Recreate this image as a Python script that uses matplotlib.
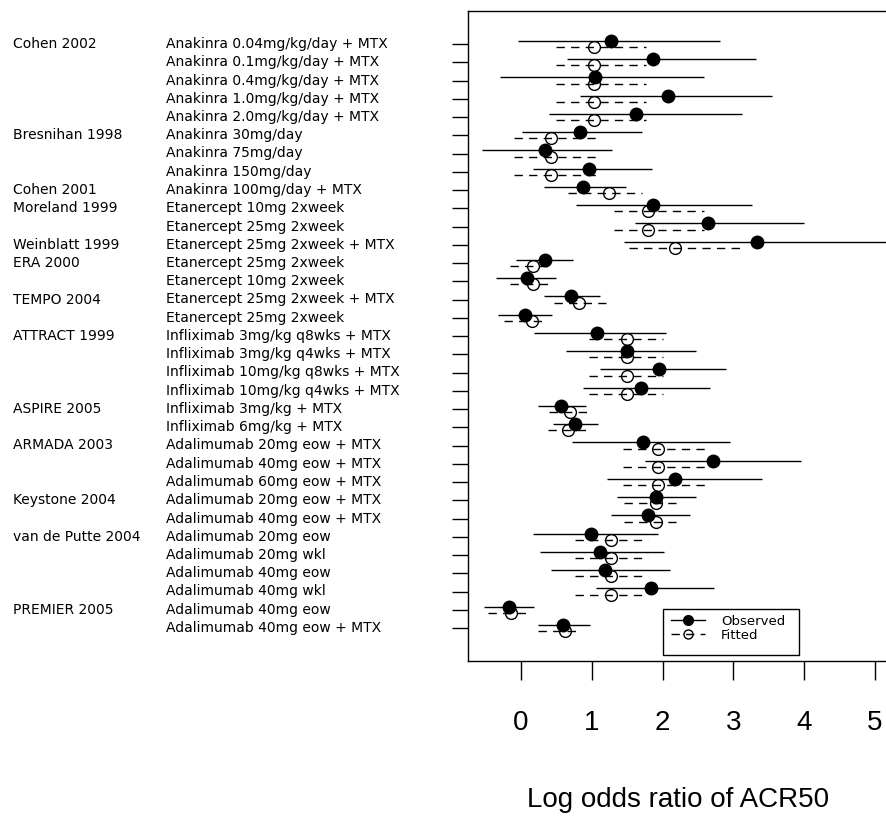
import matplotlib
matplotlib.use('Agg')
import matplotlib.pyplot as plt
from matplotlib.lines import Line2D
from matplotlib.patches import Rectangle
import numpy as np

studies = ['Cohen 2002', '', '', '', '',
           'Bresnihan 1998', '', '',
           'Cohen 2001',
           'Moreland 1999', '',
           'Weinblatt 1999',
           'ERA 2000', '',
           'TEMPO 2004', '',
           'ATTRACT 1999', '', '', '',
           'ASPIRE 2005', '',
           'ARMADA 2003', '', '',
           'Keystone 2004', '',
           'van de Putte 2004', '', '', '',
           'PREMIER 2005', '']
treatments = ['Anakinra 0.04mg/kg/day + MTX', 'Anakinra 0.1mg/kg/day + MTX',
              'Anakinra 0.4mg/kg/day + MTX', 'Anakinra 1.0mg/kg/day + MTX',
              'Anakinra 2.0mg/kg/day + MTX',
              'Anakinra 30mg/day', 'Anakinra 75mg/day', 'Anakinra 150mg/day',
              'Anakinra 100mg/day + MTX',
              'Etanercept 10mg 2xweek', 'Etanercept 25mg 2xweek',
              'Etanercept 25mg 2xweek + MTX',
              'Etanercept 25mg 2xweek', 'Etanercept 10mg 2xweek',
              'Etanercept 25mg 2xweek + MTX', 'Etanercept 25mg 2xweek',
              'Infliximab 3mg/kg q8wks + MTX', 'Infliximab 3mg/kg q4wks + MTX',
              'Infliximab 10mg/kg q8wks + MTX', 'Infliximab 10mg/kg q4wks + MTX',
              'Infliximab 3mg/kg + MTX', 'Infliximab 6mg/kg + MTX',
              'Adalimumab 20mg eow + MTX', 'Adalimumab 40mg eow + MTX',
              'Adalimumab 60mg eow + MTX',
              'Adalimumab 20mg eow + MTX', 'Adalimumab 40mg eow + MTX',
              'Adalimumab 20mg eow', 'Adalimumab 20mg wkl',
              'Adalimumab 40mg eow', 'Adalimumab 40mg wkl',
              'Adalimumab 40mg eow', 'Adalimumab 40mg eow + MTX']

obs = [1.27, 1.87, 1.05, 2.07, 1.62, 0.83, 0.34, 0.96, 0.88, 1.87, 2.64, 3.34,
       0.34, 0.08, 0.71, 0.06, 1.07, 1.50, 1.95, 1.70, 0.565, 0.76, 1.73, 2.71,
       2.18, 1.90, 1.80, 0.99, 1.11, 1.19, 1.84, -0.165, 0.60]
obs_lo = [-0.04, 0.65, -0.30, 0.84, 0.39, 0.02, -0.55, 0.17, 0.33, 0.78, 1.61, 1.46,
          -0.07, -0.35, 0.32, -0.32, 0.19, 0.64, 1.12, 0.87, 0.24, 0.45, 0.72, 1.75,
          1.21, 1.35, 1.27, 0.17, 0.27, 0.42, 1.06, -0.52, 0.24]
obs_hi = [2.81, 3.32, 2.58, 3.55, 3.12, 1.71, 1.29, 1.85, 1.48, 3.26, 4.00, 5.40,
          0.74, 0.49, 1.12, 0.44, 2.05, 2.47, 2.90, 2.67, 0.92, 1.09, 2.95, 3.95,
          3.40, 2.47, 2.39, 1.94, 2.02, 2.10, 2.73, 0.18, 0.97]
fit = [1.03, 1.03, 1.03, 1.03, 1.03, 0.42, 0.42, 0.42, 1.24, 1.80, 1.80, 2.18,
       0.165, 0.165, 0.82, 0.15, 1.50, 1.50, 1.50, 1.50, 0.69, 0.67, 1.94, 1.94,
       1.94, 1.90, 1.90, 1.27, 1.27, 1.27, 1.27, -0.14, 0.62]
fit_lo = [0.50, 0.50, 0.50, 0.50, 0.50, -0.10, -0.10, -0.10, 0.67, 1.32, 1.32, 1.52,
          -0.155, -0.155, 0.47, -0.24, 0.96, 0.96, 0.96, 0.96, 0.39, 0.38, 1.44, 1.44,
          1.44, 1.46, 1.46, 0.76, 0.76, 0.76, 0.76, -0.46, 0.24]
fit_hi = [1.77, 1.77, 1.77, 1.77, 1.77, 1.07, 1.07, 1.07, 1.71, 2.59, 2.59, 3.15,
          0.44, 0.44, 1.20, 0.35, 2.00, 2.00, 2.00, 2.00, 0.97, 0.97, 2.61, 2.61,
          2.61, 2.28, 2.28, 1.79, 1.79, 1.79, 1.79, 0.12, 0.82]

xticks = [0, 1, 2, 3, 4, 5]

W, H = 887, 819
fig = plt.figure(figsize=(W / 100, H / 100), dpi=100)

# axes: x=0 at 521px, 70.8 px per unit; rows 18.25 px apart
x0, xs = 521, 70.8
xmin, xmax = -0.75, 5.6
ax_left = x0 + xmin * xs
ax_w = (xmax - xmin) * xs
ax_top, ax_bot = 11, 661
ax = fig.add_axes([ax_left / W, 1 - ax_bot / H, ax_w / W, (ax_bot - ax_top) / H])

n = len(obs)
y = np.arange(n)
pad = (44 - 11) / 18.25
ax.set_xlim(xmin, xmax)
ax.set_ylim(n - 1 + pad, -pad)

dash = (0, (6, 4.5))
off = 0.165
ax.hlines(y + off, fit_lo, fit_hi, colors='black', linewidth=1.0, linestyles=dash)
ax.plot(fit, y + off, 'o', mfc='none', mec='black', ms=8.5, mew=1.0)
ax.hlines(y - off, obs_lo, obs_hi, colors='black', linewidth=1.0)
ax.plot(obs, y - off, 'o', color='black', ms=9)

ax.set_yticks(y)
ax.set_yticklabels([])
ax.tick_params(axis='y', direction='out', length=11.5, width=1)
ax.set_xticks(xticks)
ax.set_xticklabels([str(t) for t in xticks], fontsize=20, family='Liberation Sans')
ax.tick_params(axis='x', direction='out', length=14, width=1, pad=21)
for s in ax.spines.values():
    s.set_linewidth(1)

# x-axis title sits left of the axes centre (axes run off the right edge)
fig.text(678 / W, 1 - 800 / H, 'Log odds ratio of ACR50', fontsize=20,
         family='Liberation Sans', ha='center', va='center')

for i in range(n):
    yf = 1 - (44 + i * 18.25) / H
    if studies[i]:
        fig.text(12.7 / W, yf, studies[i], fontsize=10, va='center', ha='left')
    fig.text(165.7 / W, yf, treatments[i], fontsize=10, va='center', ha='left')

# legend box
fig.patches.append(Rectangle((663 / W, 1 - 655 / H), 136 / W, 46 / H,
                             transform=fig.transFigure, fill=False,
                             edgecolor='black', linewidth=1))
handles = [Line2D([], [], color='black', lw=1, marker='o', ms=7),
           Line2D([], [], color='black', lw=1, ls=dash, marker='o', mfc='none', ms=6.5)]
fig.legend(handles, ['Observed', 'Fitted'], loc='upper left',
           bbox_to_anchor=(663 / W, 1 - 607 / H), frameon=False, fontsize=9.5,
           handlelength=2.6, labelspacing=0.05, borderpad=0.1, handletextpad=1.2)

fig.savefig('out.png', dpi=100)
